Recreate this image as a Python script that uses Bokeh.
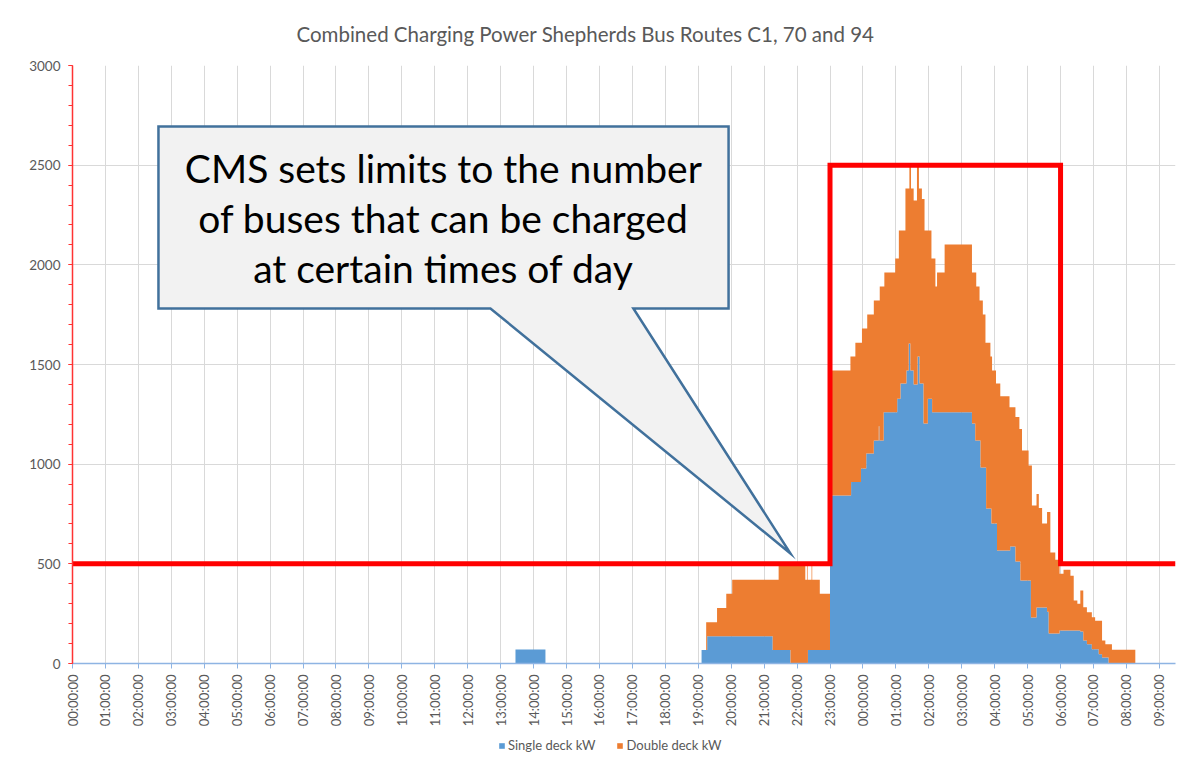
import numpy as np
from bokeh.plotting import figure
from bokeh.layouts import column
from bokeh.models import Range1d, FixedTicker, Legend, LegendItem
from bokeh.core.properties import value
from bokeh.embed import file_html
from bokeh.resources import INLINE

# ---------------- data ----------------
title_text = "Combined Charging Power Shepherds Bus Routes C1, 70 and 94"
series_names = ["Single deck kW", "Double deck kW"]

# time of each step (hours since 00:00 of day 1); value holds until next time
hours = [0.00, 13.45, 14.36, 19.10, 19.24, 19.27, 19.57, 19.85, 20.03, 21.26,
         21.44, 21.80, 22.25, 22.30, 22.32, 22.33, 22.44, 22.46, 22.69, 23.00,
         23.62, 23.64, 23.77, 23.94, 23.97, 24.10, 24.13, 24.33, 24.48, 24.50,
         24.51, 24.63, 24.65, 24.98, 25.04, 25.09, 25.14, 25.29, 25.32, 25.39,
         25.41, 25.44, 25.46, 25.54, 25.64, 25.66, 25.70, 25.72, 25.79, 25.84,
         25.87, 25.97, 26.08, 26.10, 26.20, 26.25, 26.48, 27.31, 27.41, 27.44,
         27.54, 27.57, 27.64, 27.72, 27.74, 27.87, 27.90, 27.92, 28.04, 28.07,
         28.17, 28.45, 28.47, 28.63, 28.75, 28.78, 28.83, 29.03, 29.10, 29.13,
         29.27, 29.34, 29.44, 29.59, 29.64, 29.69, 29.84, 29.97, 30.09, 30.30,
         30.40, 30.51, 30.60, 30.69, 30.80, 30.95, 31.05, 31.16, 31.26, 31.36,
         31.46, 31.56, 32.27, 33.49]

single_kw = [0, 70, 0, 68, 68, 137, 137, 137, 137, 68,
             68, 0, 0, 0, 0, 68, 68, 68, 68, 843,
             843, 910, 910, 978, 978, 1053, 1053, 1119, 1190, 1119,
             1119, 1261, 1261, 1261, 1328, 1328, 1405, 1405, 1470, 1605,
             1605, 1470, 1470, 1400, 1400, 1540, 1540, 1405, 1405, 1204,
             1204, 1328, 1328, 1261, 1261, 1261, 1261, 1204, 1119, 1119,
             1119, 983, 983, 983, 778, 778, 702, 702, 702, 567,
             567, 567, 587, 512, 512, 416, 416, 416, 231, 231,
             281, 281, 281, 260, 150, 150, 150, 165, 165, 165,
             165, 165, 160, 115, 97, 72, 72, 47, 30, 30,
             0, 0, 0, 0]

double_kw = [0, 0, 0, 0, 139, 70, 142, 213, 283, 352,
             422, 490, 420, 490, 420, 352, 422, 352, 282, 627,
             697, 630, 699, 631, 702, 627, 698, 702, 631, 702,
             772, 630, 701, 771, 704, 844, 767, 978, 913, 778,
             893, 1028, 913, 923, 1098, 958, 843, 978, 925, 1126,
             968, 844, 704, 771, 630, 701, 841, 758, 843, 772,
             702, 838, 768, 626, 831, 762, 838, 768, 703, 838,
             774, 719, 699, 724, 665, 761, 653, 577, 762, 562,
             569, 499, 421, 500, 610, 407, 370, 285, 305, 275,
             151, 135, 206, 167, 160, 160, 142, 167, 85, 67,
             97, 69, 0, 0]

tick_hours = list(range(34))
tick_labels = ["00:00:00", "01:00:00", "02:00:00", "03:00:00", "04:00:00",
               "05:00:00", "06:00:00", "07:00:00", "08:00:00", "09:00:00",
               "10:00:00", "11:00:00", "12:00:00", "13:00:00", "14:00:00",
               "15:00:00", "16:00:00", "17:00:00", "18:00:00", "19:00:00",
               "20:00:00", "21:00:00", "22:00:00", "23:00:00", "00:00:00",
               "01:00:00", "02:00:00", "03:00:00", "04:00:00", "05:00:00",
               "06:00:00", "07:00:00", "08:00:00", "09:00:00"]
y_ticks = [0, 500, 1000, 1500, 2000, 2500, 3000]

# CMS charging limit (kW), step profile
limit_hours = [0, 23, 30, 33.49]
limit_kw = [500, 2500, 500, 500]

# callout annotation
callout_lines = ["CMS sets limits to the number",
                 "of buses that can be charged",
                 "at certain times of day"]
callout_x = [2.61, 19.92, 19.92, 17.03, 21.80, 12.69, 2.61]
callout_y = [2694, 2694, 1781, 1781, 552, 1781, 1781]
callout_text_x = [11.26, 11.26, 11.26]
callout_text_y = [2485, 2235, 1985]

# ---------------- main figure ----------------
BLUE = "#5B9BD5"
ORANGE = "#ED7D31"
GREY_TXT = "#595959"
GRID = "#D9D9D9"
FONT = "Lato"

p = figure(width=1195, height=733, output_backend="svg", toolbar_location=None,
           x_range=Range1d(0, 33.49), y_range=Range1d(0, 3000),
           min_border_left=72, min_border_right=20, min_border_top=65,
           min_border_bottom=70, title=title_text)
p.outline_line_color = None
p.background_fill_color = "white"
p.border_fill_color = "white"

p.title.align = "left"
p.title.offset = 224
p.title.text_font = FONT
p.title.text_font_size = "20.5px"
p.title.text_font_style = "normal"
p.title.text_color = GREY_TXT
p.title.standoff = 39

x = np.array(hours)
s = np.array(single_kw, dtype=float)
d = np.array(double_kw, dtype=float)

p.varea_step(x=x, y1=np.zeros_like(s), y2=s, step_mode="after", fill_color=BLUE)
p.varea_step(x=x, y1=s, y2=s + d, step_mode="after", fill_color=ORANGE)

p.step(x=limit_hours, y=limit_kw, mode="after", line_color="#FF0000",
       line_width=5, line_join="miter")

p.patch(callout_x, callout_y, fill_color="#F2F2F2", line_color="#41719C",
        line_width=2.5, line_join="miter")
p.text(x=callout_text_x, y=callout_text_y, text=callout_lines,
       text_font=value(FONT), text_font_size="39px", text_color="black",
       text_align="center", text_baseline="middle")

# axes
p.xaxis.ticker = FixedTicker(ticks=tick_hours)
p.xaxis.major_label_overrides = {h: lab for h, lab in zip(tick_hours, tick_labels)}
p.xaxis.major_label_orientation = np.pi / 2
p.xaxis.major_label_text_font = FONT
p.xaxis.major_label_text_font_size = "13px"
p.xaxis.major_label_text_color = GREY_TXT
p.xaxis.axis_line_color = "#8EB4E3"
p.xaxis.axis_line_width = 1.5
p.xaxis.major_tick_line_color = "#8EB4E3"
p.xaxis.major_tick_out = 5
p.xaxis.major_tick_in = 0
p.xaxis.minor_tick_line_color = None
p.xaxis.major_label_standoff = 6

p.yaxis.ticker = FixedTicker(ticks=y_ticks, minor_ticks=list(range(0, 3001, 100)))
p.yaxis.major_label_text_font = FONT
p.yaxis.major_label_text_font_size = "13.5px"
p.yaxis.major_label_text_color = GREY_TXT
p.yaxis.axis_line_color = "#FF3333"
p.yaxis.axis_line_width = 1.5
p.yaxis.major_tick_line_color = "#FF3333"
p.yaxis.minor_tick_line_color = "#FF3333"
p.yaxis.major_tick_out = 4
p.yaxis.major_tick_in = 0
p.yaxis.minor_tick_out = 4
p.yaxis.minor_tick_in = 0
p.yaxis.major_label_standoff = 8

p.xgrid.grid_line_color = GRID
p.ygrid.grid_line_color = GRID

# ---------------- legend strip below the chart ----------------
p_leg = figure(width=1195, height=30, output_backend="svg", toolbar_location=None,
               x_range=Range1d(0, 1), y_range=Range1d(0, 1),
               x_axis_location=None, y_axis_location=None,
               min_border=0)
p_leg.outline_line_color = None
p_leg.grid.visible = False
# swatch renderers lie outside this strip's visible range; only their legend shows
leg_renderers = [p_leg.varea(x=[5, 6], y1=[5, 5], y2=[6, 6], fill_color=c)
                 for c in (BLUE, ORANGE)]
legend = Legend(items=[LegendItem(label=n, renderers=[r])
                       for n, r in zip(series_names, leg_renderers)],
                orientation="horizontal", location=(426, 10),
                label_text_font=FONT, label_text_font_size="13px",
                label_text_color=GREY_TXT, glyph_width=7, glyph_height=7,
                label_standoff=3, spacing=21, border_line_color=None,
                background_fill_alpha=0, margin=0, padding=0, label_height=16)
p_leg.add_layout(legend, "center")

layout = column(p, p_leg, spacing=0)
open("out.html", "w").write(file_html(layout, INLINE))
